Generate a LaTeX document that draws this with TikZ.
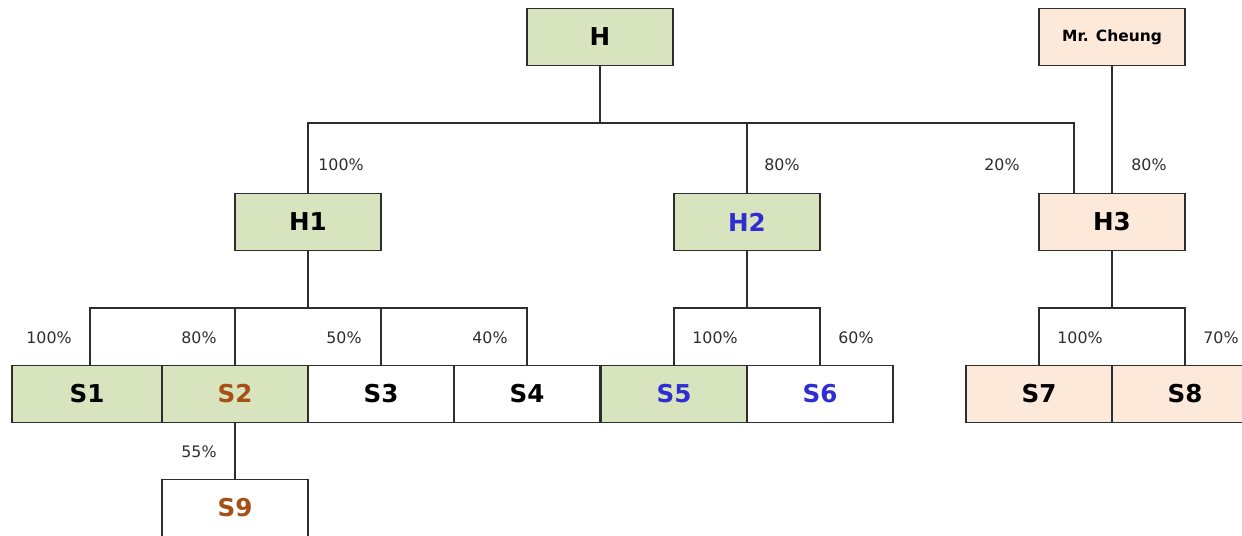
\documentclass[tikz,border=0pt]{standalone}
\usepackage{fontspec}
\setmainfont{DejaVu Sans}

\definecolor{boxgreen}{RGB}{215,228,189}
\definecolor{boxpeach}{RGB}{253,233,217}
\definecolor{txtbrown}{RGB}{165,80,20}
\definecolor{txtblue}{RGB}{45,45,210}
\definecolor{linegray}{RGB}{45,45,45}

\begin{document}
\begin{tikzpicture}
  [x=0.02cm,y=-0.02cm
  ,co/.style={draw=linegray,line width=0.75pt,minimum width=2.92cm,minimum height=1.14cm,
              inner sep=0pt,font=\bfseries\fontsize{14}{15}\selectfont}
  ,green/.style={co,fill=boxgreen}
  ,peach/.style={co,fill=boxpeach}
  ,plain/.style={co,fill=white}
  ,pct/.style={inner sep=0pt,text=linegray,font=\fontsize{9}{10}\selectfont}
  ,link/.style={draw=linegray,line width=0.75pt}
  ]

  \useasboundingbox (0,0) rectangle (1242,535);
  \clip (0,0) rectangle (1242,535);

  % top level
  \node[green] (H) at (600,37) {H};
  \node[peach,font=\bfseries\fontsize{8.8}{10}\selectfont] (MrC) at (1112,37) {Mr. Cheung};

  % holding companies
  \node[green] (H1) at (308,222) {H1};
  \node[green,text=txtblue] (H2) at (747,222) {H2};
  \node[peach] (H3) at (1112,222) {H3};

  % subsidiaries
  \node[green,minimum width=3.0cm] (S1) at (87,394) {S1};
  \node[green,text=txtbrown] (S2) at (235,394) {S2};
  \node[plain] (S3) at (381,394) {S3};
  \node[plain] (S4) at (527,394) {S4};
  \node[green,text=txtblue] (S5) at (674,394) {S5};
  \node[plain,text=txtblue] (S6) at (820,394) {S6};
  \node[peach] (S7) at (1039,394) {S7};
  \node[peach] (S8) at (1185,394) {S8};
  \node[plain,text=txtbrown] (S9) at (235,508) {S9};

  % bus lines
  \coordinate (busH) at (0,123);
  \coordinate (busS) at (0,308);
  \coordinate (h3in) at ([xshift=0.71cm]H3.north west);

  \draw[link] (H.south) -- (H.south |- busH);
  \draw[link] (H1.north) |- (busH -| h3in) -- (h3in);
  \draw[link] (H2.north) -- (H2.north |- busH);
  \draw[link] (MrC.south) -- (H3.north);

  \draw[link] (H1.south) -- (H1.south |- busS);
  \draw[link] ([xshift=0.06cm]S1.north) |- (busS -| S4.north) -- (S4.north);
  \draw[link] (S2.north) -- (S2.north |- busS);
  \draw[link] (S3.north) -- (S3.north |- busS);

  \draw[link] (H2.south) -- (H2.south |- busS);
  \draw[link] (S5.north) |- (busS -| S6.north) -- (S6.north);

  \draw[link] (H3.south) -- (H3.south |- busS);
  \draw[link] (S7.north) |- (busS -| S8.north) -- (S8.north);

  \draw[link] (S2.south) -- (S9.north);

  % shares
  \node[pct] (p1) at (341,165) {100\%};
  \node[pct] (p2) at (782,165) {80\%};
  \node[pct] (p3) at (1002,165) {20\%};
  \node[pct] (p4) at (1149,165) {80\%};
  \node[pct] (p5) at (49,338) {100\%};
  \node[pct] (p6) at (199,338) {80\%};
  \node[pct] (p7) at (344,338) {50\%};
  \node[pct] (p8) at (490,338) {40\%};
  \node[pct] (p9) at (715,338) {100\%};
  \node[pct] (p10) at (856,338) {60\%};
  \node[pct] (p11) at (1080,338) {100\%};
  \node[pct] (p12) at (1221,338) {70\%};
  \node[pct] (p13) at (199,452) {55\%};

\end{tikzpicture}
\end{document}
